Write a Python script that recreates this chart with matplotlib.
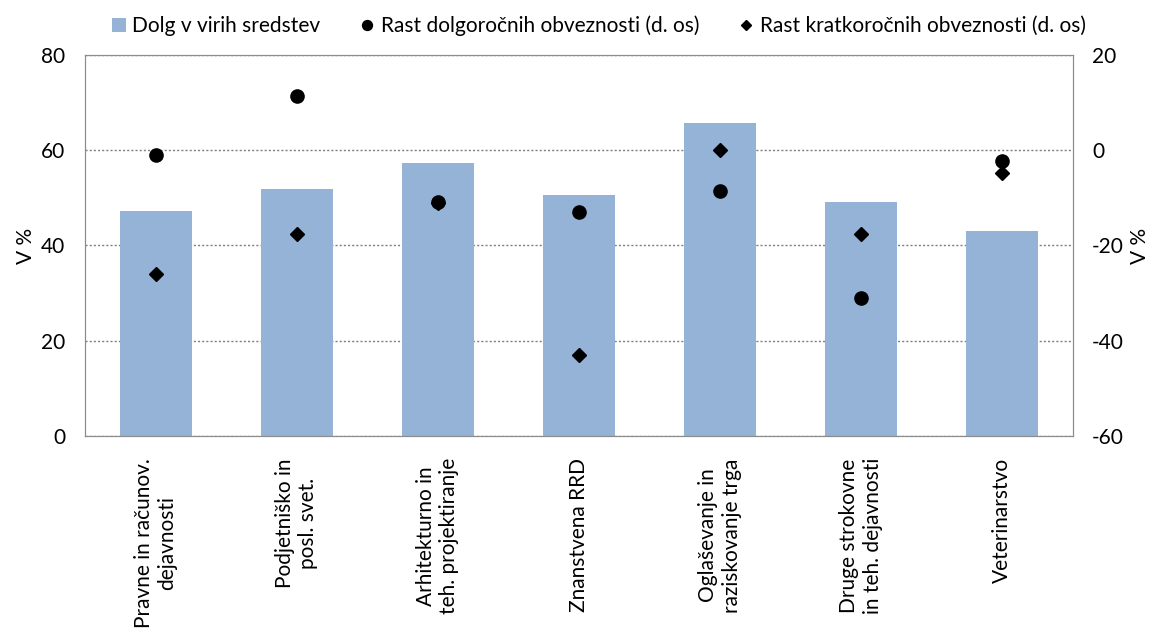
import numpy as np
import matplotlib.pyplot as plt
from matplotlib.ticker import FuncFormatter

plt.rcParams['font.family'] = ['Lato', 'DejaVu Sans']

# data
categories = ['Pravne in računov.\ndejavnosti', 'Podjetniško in\nposl. svet.',
              'Arhitekturno in\nteh. projektiranje', 'Znanstvena RRD',
              'Oglaševanje in\nraziskovanje trga', 'Druge strokovne\nin teh. dejavnosti',
              'Veterinarstvo']
dolg = [47.3, 51.8, 57.4, 50.6, 65.8, 49.2, 43.1]
rast_dolg = [-1.0, 11.3, -10.9, -13.0, -8.6, -31.1, -2.3]
rast_krat = [-26.0, -17.6, -11.1, -42.9, 0.0, -17.6, -4.8]

fig = plt.figure(figsize=(11.56, 6.36), dpi=100)
ax = fig.add_axes([0.0735, 0.3145, 0.8545, 0.599])
ax2 = ax.twinx()

x = np.arange(len(categories))
ax.bar(x, dolg, width=0.51, color='#95b3d7', label='Dolg v virih sredstev', zorder=2)
ax2.plot(x, rast_dolg, 'o', color='black', markersize=9.5,
         label='Rast dolgoročnih obveznosti (d. os)', zorder=3)
ax2.plot(x, rast_krat, 'D', color='black', markersize=7,
         label='Rast kratkoročnih obveznosti (d. os)', zorder=4)

ax.set_xlim(-0.5, len(categories) - 0.5)
ax.set_ylim(0, 80)
ax2.set_ylim(-60, 20)
ax.set_yticks([0, 20, 40, 60, 80])
ax2.set_yticks([-60, -40, -20, 0, 20])
ax2.yaxis.set_major_formatter(FuncFormatter(lambda v, p: '%d' % v))
ax.yaxis.grid(True, linestyle=(0, (1.5, 1.5)), color='#7f7f7f', linewidth=1, zorder=0)
ax.set_axisbelow(True)
ax.set_zorder(ax2.get_zorder() - 1)
ax2.patch.set_visible(False)

fs = 15
ax.set_xticks(x)
ax.set_xticklabels(categories, rotation=90, fontsize=fs, multialignment='center')
ax.tick_params(axis='y', length=0, labelsize=fs, pad=14)
ax.tick_params(axis='x', length=0, pad=16)
ax2.tick_params(axis='y', length=0, labelsize=fs, pad=14)

ax.set_ylabel('V %', fontsize=fs, labelpad=4)
ax2.set_ylabel('V %', fontsize=fs, labelpad=4)

for a in (ax, ax2):
    for s in a.spines.values():
        s.set_color('#8c8c8c')

h1, l1 = ax.get_legend_handles_labels()
h2, l2 = ax2.get_legend_handles_labels()
fig.legend(h1 + h2, l1 + l2, loc='upper center', bbox_to_anchor=(0.518, 1.005), ncol=3,
           frameon=False, fontsize=fs, handlelength=0.7, handletextpad=0.3,
           columnspacing=1.9, handleheight=0.7, markerscale=0.75)

fig.savefig('out.png', dpi=100)
